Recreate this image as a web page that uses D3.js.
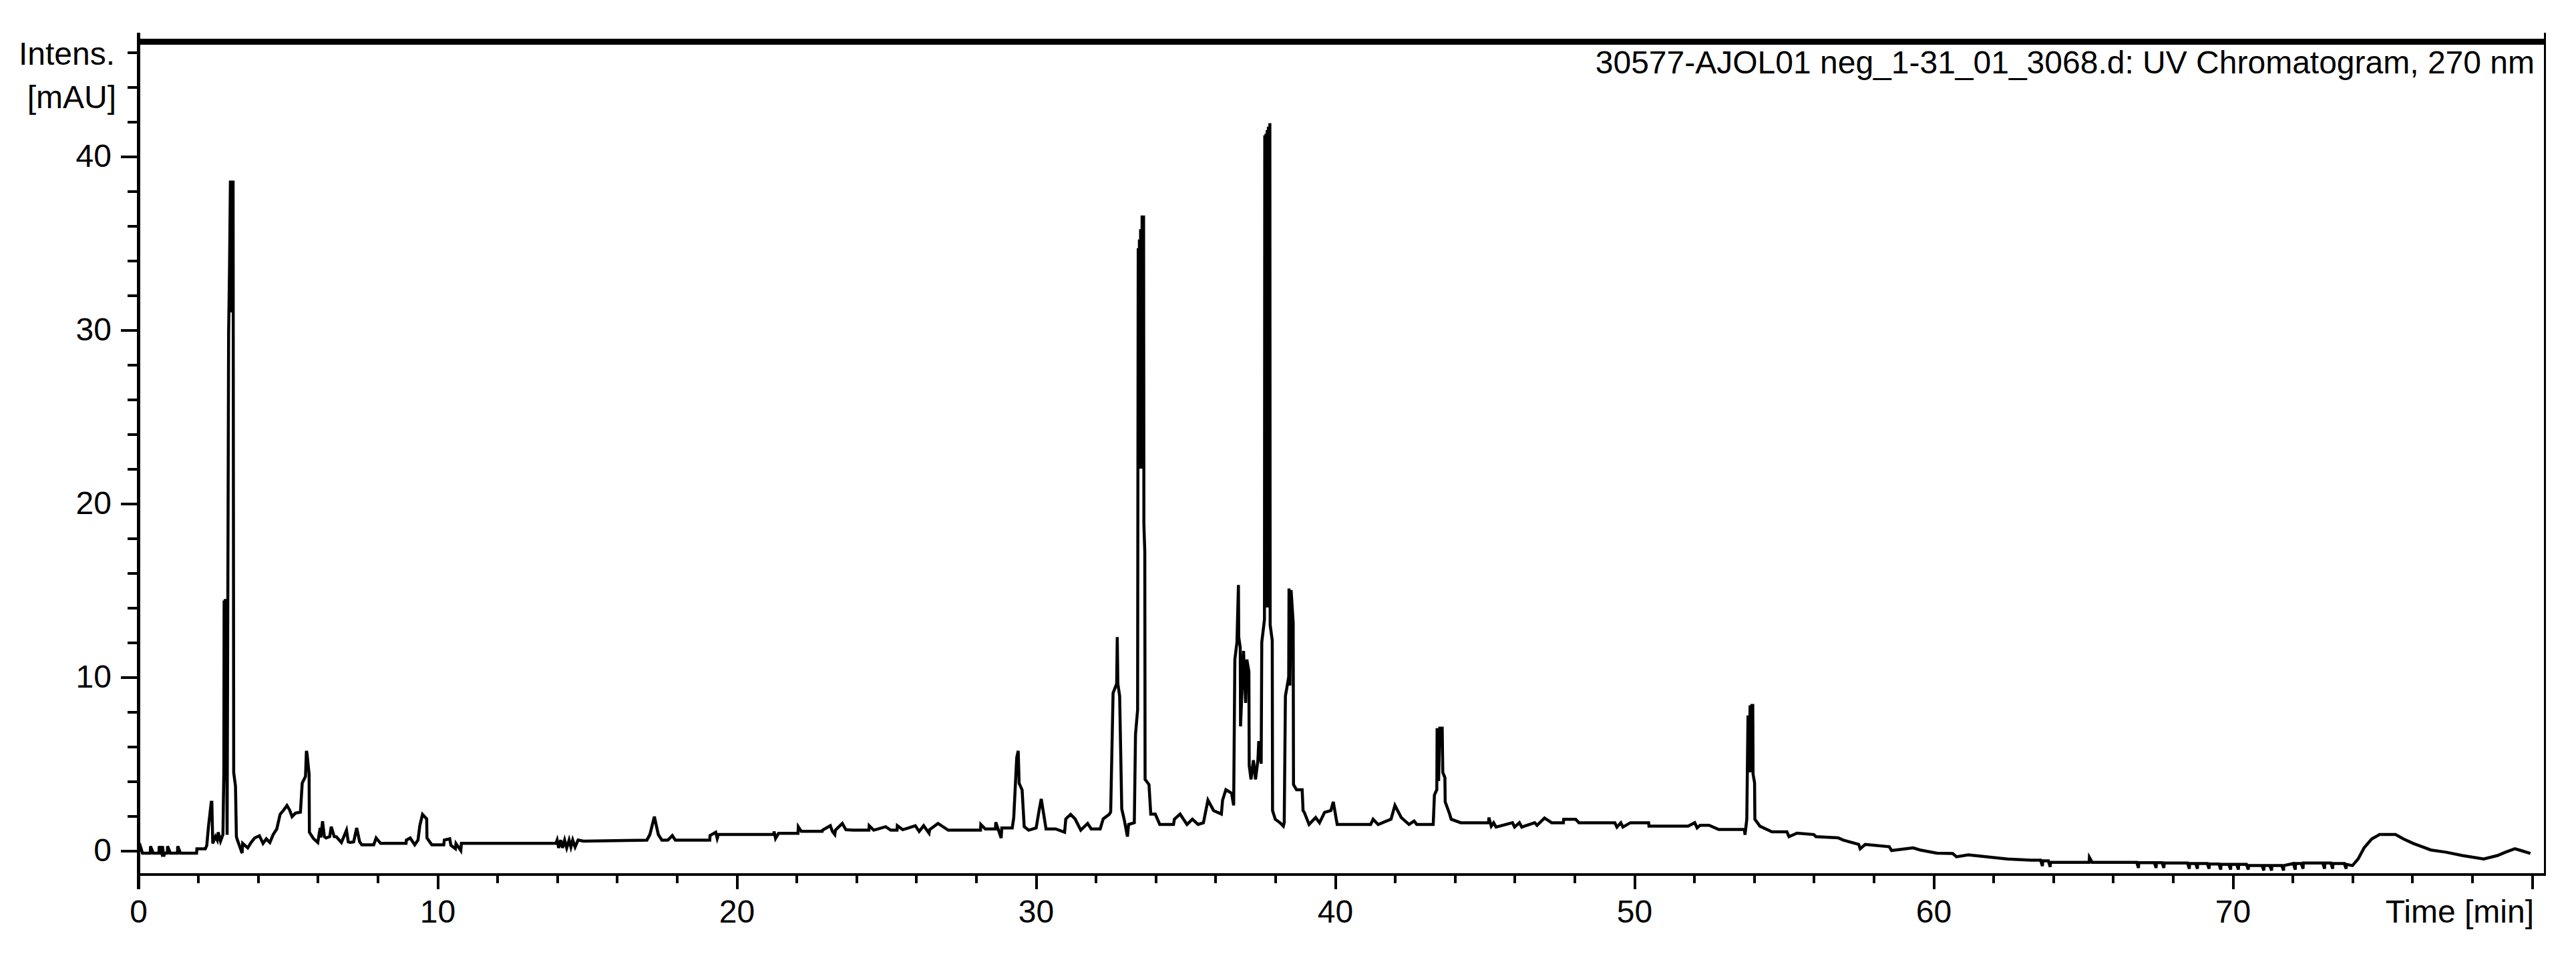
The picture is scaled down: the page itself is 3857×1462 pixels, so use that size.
<!DOCTYPE html>
<html>
<head>
<meta charset="utf-8">
<script src="https://cdn.jsdelivr.net/npm/d3@7/dist/d3.min.js"></script>
<style>
  body { margin: 0; background: #fff; }
  #chart-container { width: 3857px; height: 1462px; }
</style>
</head>
<body>
<div id="chart-container"></div>
<script>
const title = "30577-AJOL01 neg_1-31_01_3068.d: UV Chromatogram, 270 nm";
const yLabel = ["Intens.", "[mAU]"];
const xLabel = "Time [min]";

const xMajorTicks = [0, 10, 20, 30, 40, 50, 60, 70, 80];
const yMajorTicks = [0, 10, 20, 30, 40];

// [time (min), intensity (mAU)]
const traceEarly = [
  [0.00,0.05],[0.07,0.25],[0.14,-0.15],[0.40,-0.15],[0.41,0.25],[0.50,-0.15],[0.69,-0.15],[0.70,0.25],
  [0.77,-0.1],[0.81,0.25],[0.85,-0.35],[0.88,-0.15],[0.97,-0.15],[0.98,0.25],[1.07,-0.15],[1.31,-0.15],
  [1.32,0.25],[1.41,-0.15],[1.95,-0.15],[1.96,0.1],[2.24,0.1],[2.29,0.28],[2.35,1.43],[2.44,2.78],
  [2.46,2.78],[2.49,0.41],[2.58,0.8],[2.64,0.6],[2.67,1.05],[2.75,0.54],[2.83,0.92],[2.86,4.5],
  [2.87,14.4],[2.89,4.0],[2.91,14.4],[2.93,14.4],[2.97,0.9],[3.02,29.8],[3.05,33.5],[3.08,38.6],
  [3.10,31],[3.12,38.6],[3.14,31],[3.17,38.6],[3.19,4.5],[3.25,3.7],[3.28,0.8],[3.30,0.67],
  [3.47,-0.15],[3.49,0.41],[3.66,0.15],
  [3.77,0.46],[3.89,0.72],[4.05,0.85],[4.17,0.41],[4.28,0.67],[4.40,0.46],[4.51,0.92],[4.63,1.24],
  [4.74,2.08],[4.86,2.33],[4.97,2.59],[5.06,2.33],[5.14,1.95],[5.25,2.15],[5.42,2.21],[5.48,3.88],
  [5.59,4.27],[5.62,5.74],[5.64,5.6],[5.71,4.4],[5.72,1.05],[5.85,0.7],[6.00,0.46],[6.08,1.30],
  [6.10,0.75],[6.16,1.68],[6.22,0.8],[6.28,0.72],[6.40,0.8],[6.45,1.37],[6.55,0.8],[6.62,0.79],
  [6.79,0.46],[6.96,1.17],[7.02,0.5],[7.08,0.46],[7.20,0.5],[7.30,1.30],[7.40,0.5],[7.47,0.33],
  [7.87,0.33],[7.95,0.72],[8.10,0.41],[8.95,0.41],[8.96,0.6],[9.09,0.72],[9.24,0.33],[9.35,0.6],
  [9.41,1.43],[9.50,2.08],[9.64,1.82],[9.65,0.72],[9.81,0.33],[10.21,0.33],[10.23,0.6],[10.41,0.67],
  [10.45,0.3],[10.60,0.1],[10.62,0.4],[10.78,0.0],[10.80,0.41],[13.96,0.41],[14.00,0.6],[14.05,0.15],
  [14.12,0.6],[14.18,0.15],[14.25,0.6],[14.32,0.15],[14.40,0.6],[14.46,0.2],[14.52,0.6],[14.60,0.2],
  [14.70,0.6],[14.88,0.54]
];

const traceMid = [
  [17.00,0.6],[17.10,0.92],[17.25,1.95],[17.38,0.92],[17.50,0.6],[17.70,0.6],[17.85,0.86],[17.95,0.6],
  [19.10,0.6],[19.11,0.86],[19.30,1.05],[19.35,0.7],[19.39,0.92],[21.24,0.92],[21.25,1.1],[21.30,0.7],
  [21.40,0.99],[22.05,0.99],[22.06,1.37],[22.16,1.11],[22.86,1.11],[22.87,1.17],[23.13,1.43],[23.20,1.1],
  [23.28,0.92],[23.30,1.17],[23.53,1.56],[23.65,1.2],[23.88,1.17],[24.42,1.17],[24.43,1.43],[24.58,1.17],
  [24.98,1.37],[25.15,1.17],[25.36,1.17],[25.37,1.43],[25.55,1.2],[25.75,1.3],[25.97,1.43],[26.10,1.1],
  [26.25,1.43],[26.43,1.0],[26.45,1.2],[26.73,1.56],[27.07,1.17],[28.15,1.17],[28.16,1.5],[28.31,1.24],
  [28.65,1.24],[28.66,1.63],[28.84,0.72],[28.86,1.30],[29.21,1.30],[29.26,1.88],[29.36,5.35],[29.41,5.74],
  [29.44,3.87],[29.54,3.49],[29.61,1.37],[29.76,1.17],[30.01,1.30],[30.11,2.33],[30.18,2.97]
];

const traceMain = [
  [30.34,1.24],[30.66,1.24],[30.96,1.05],[31.00,1.82],[31.16,2.08],[31.31,1.82],[31.50,1.17],[31.73,1.56],
  [31.85,1.24],[32.15,1.24],[32.25,1.82],[32.45,2.08],[32.50,2.22],[32.58,9.07],[32.70,9.6],[32.72,12.3],
  [32.74,9.6],[32.80,8.9],[32.87,2.4],[32.95,1.8],[33.06,0.8],[33.10,1.5],[33.29,1.6],[33.33,6.7],
  [33.40,8.1],[33.42,34.7],[33.44,22],[33.46,35.2],[33.48,22],[33.50,35.8],[33.52,22],[33.55,36.5],
  [33.60,36.5],[33.61,18.8],
  [33.64,17.2],[33.65,4.1],[33.78,3.8],[33.84,2.1],[33.99,2.1],[34.14,1.5],[34.60,1.5],[34.63,1.8],
  [34.82,2.1],[35.05,1.5],[35.23,1.8],[35.42,1.5],[35.60,1.6],[35.75,2.9],[35.94,2.3],[36.20,2.1],
  [36.24,2.9],[36.35,3.5],[36.54,3.3],[36.61,2.6],[36.65,11.0],[36.72,12.0],[36.77,15.3],[36.78,12.3],
  [36.83,11.7],[36.84,7.15],[36.94,11.5],[37.01,8.5],[37.05,11.0],[37.12,10.3],[37.13,4.9],[37.19,4.1],
  [37.27,5.2],[37.34,4.1],[37.42,5.2],[37.45,6.3],[37.53,5.0],[37.55,12.0],[37.64,13.3],[37.65,41.2],
  [37.67,14],[37.69,41.3],[37.71,14],[37.73,41.5],[37.75,14],[37.77,41.7],[37.79,14],[37.82,41.9],
  [37.83,13.0],[37.90,12.1],
  [37.91,2.3],[38.00,1.8],[38.16,1.6],[38.27,1.4],[38.30,1.6],[38.34,8.9],[38.45,10.0],[38.46,15.1],
  [38.49,9.5],[38.53,15.0],[38.60,13.1],[38.61,3.8],[38.71,3.5],[38.90,3.5],[38.93,2.3],[38.97,2.2],
  [39.13,1.5],[39.35,1.9],[39.48,1.6],[39.65,2.2],[39.86,2.3],[39.94,2.8],[40.07,1.5],[41.19,1.5],
  [41.27,1.8],[41.44,1.5],[41.87,1.8],[42.00,2.6],[42.21,1.9],[42.47,1.5],[42.64,1.7],[42.73,1.5],
  [43.28,1.5],[43.32,3.2],[43.40,3.5],[43.41,7.05],[43.46,4.0],[43.50,7.05],[43.58,7.05],[43.60,4.5],
  [43.67,4.2],[43.68,2.8],[43.82,2.15],[43.88,1.8],[44.20,1.6]
];

const traceLate = [
  [45.13,1.6],[45.14,1.9],[45.22,1.4],[45.30,1.6],[45.38,1.35],[45.93,1.6],[46.00,1.35],[46.16,1.6],
  [46.24,1.35],[46.67,1.6],[46.75,1.45],[47.00,1.87],[47.24,1.6],[47.63,1.6],[47.64,1.8],[48.04,1.8],
  [48.15,1.6],[49.35,1.6],[49.42,1.35],[49.55,1.6],[49.62,1.35],[49.87,1.6],[50.48,1.6],[50.49,1.4],
  [51.80,1.4],[52.02,1.6],[52.10,1.3],[52.20,1.45],[52.50,1.45],[52.82,1.21],[53.68,1.21],[53.70,0.9],
  [53.76,1.8],[53.80,7.78],[53.83,4.5],[53.87,8.36],[53.90,4.5],[53.93,8.36],[53.96,8.36],[53.97,4.4],
  [54.02,3.9],[54.03,1.8],[54.20,1.4],[54.60,1.08],[55.10,1.08],[55.17,0.8],[55.44,1.0],[56.00,0.92],
  [56.07,0.8],[56.81,0.73],[56.98,0.6],[57.50,0.35],[57.55,0.1],[57.72,0.35],[58.52,0.22],[58.60,0.0],
  [59.32,0.15],[59.55,0.03],[60.11,-0.15],[60.64,-0.17],[60.77,-0.36],[61.16,-0.25],[61.42,-0.3],[62.47,-0.49],
  [63.26,-0.56],[63.58,-0.56],[63.64,-0.9],[63.65,-0.6],[63.84,-0.6],[63.90,-0.95],[63.91,-0.68],[64.04,-0.68],
  [65.20,-0.68],[65.21,-0.4],[65.30,-0.68],[66.79,-0.68],[66.85,-1.0],[66.86,-0.7],[67.38,-0.7],[67.44,-1.0],
  [67.45,-0.7],[67.64,-0.7],[67.70,-1.0],[67.71,-0.72],[68.49,-0.72],[68.55,-1.05],[68.56,-0.75],[68.76,-0.75],
  [68.82,-1.05],[68.83,-0.75],[69.15,-0.75],[69.21,-1.05],[69.22,-0.78],[69.54,-0.78],[69.60,-1.1],[69.61,-0.8],
  [69.87,-0.8],[69.93,-1.1],[69.94,-0.8],[70.13,-0.8],[70.19,-1.1],[70.20,-0.8],[70.46,-0.8],[70.52,-1.1],
  [70.53,-0.87],[70.98,-0.87],[71.04,-1.15],[71.05,-0.87],[71.24,-0.87],[71.30,-1.15],[71.31,-0.87],[71.64,-0.87],
  [71.70,-1.15],[71.71,-0.87],[72.03,-0.75],[72.09,-1.1],[72.10,-0.75],[72.29,-0.75],[72.35,-1.05],[72.36,-0.72],
  [73.01,-0.72],[73.07,-1.05],[73.08,-0.72],[73.28,-0.72],[73.34,-1.05],[73.35,-0.75],[73.73,-0.75],[73.79,-1.05],
  [73.80,-0.8],[74.00,-0.87],[74.19,-0.49],[74.39,0.15],[74.65,0.67],[74.91,0.92],[75.44,0.92],[75.70,0.67],
  [76.03,0.41],[76.62,0.03],[77.14,-0.1],[77.67,-0.29],[78.39,-0.49],[78.85,-0.29],[79.11,-0.1],[79.43,0.1],
  [79.63,0.0],[79.95,-0.17]
];

const trace = traceEarly.concat(traceMid, traceMain, traceLate);

const frame = { top: 62, left: 207, right: 3810, bottom: 1310, axisTop: 49 };
const fontFamily = "'Liberation Sans', Arial, sans-serif";

const svg = d3.select("#chart-container")
    .append("svg")
    .attr("width", 3857)
    .attr("height", 1462)
    .style("background", "#fff");

const x = d3.scaleLinear().domain([0, 80]).range([frame.left, 3791]);
const y = d3.scaleLinear().domain([0, 40]).range([1274, 234]);

// y axis ticks
const yAxisG = svg.append("g").attr("transform", `translate(${frame.left},0)`);
yAxisG.append("g")
    .call(d3.axisLeft(y).tickValues(d3.range(2, 47, 2).filter(d => d % 10 !== 0))
        .tickSize(16).tickFormat("").tickSizeOuter(0));
yAxisG.append("g")
    .call(d3.axisLeft(y).tickValues(yMajorTicks).tickSize(26).tickPadding(14).tickSizeOuter(0));

// x axis ticks
const xAxisG = svg.append("g").attr("transform", `translate(0,${frame.bottom})`);
xAxisG.append("g")
    .call(d3.axisBottom(x).tickValues(d3.range(2, 80, 2).filter(d => d % 10 !== 0))
        .tickSize(13).tickFormat("").tickSizeOuter(0));
xAxisG.append("g")
    .call(d3.axisBottom(x).tickValues(xMajorTicks).tickSize(22).tickPadding(16)
        .tickFormat(d => d === 80 ? "" : d).tickSizeOuter(0));

svg.selectAll(".domain").remove();
svg.selectAll(".tick line")
    .attr("stroke", "#000").attr("stroke-width", 4)
    .attr("shape-rendering", "crispEdges");
svg.selectAll(".tick text")
    .attr("fill", "#000")
    .style("font-family", fontFamily)
    .style("font-size", "48px");

// frame
const frameLine = (x1, y1, x2, y2, w) => svg.append("line")
    .attr("x1", x1).attr("y1", y1).attr("x2", x2).attr("y2", y2)
    .attr("stroke", "#000").attr("stroke-width", w)
    .attr("shape-rendering", "crispEdges");

frameLine(frame.left, frame.top, frame.right, frame.top, 9);
frameLine(frame.left, frame.axisTop, frame.left, 1332, 5);
frameLine(frame.right, frame.axisTop, frame.right, frame.bottom + 2, 3);
frameLine(frame.left, frame.bottom, frame.right + 1.5, frame.bottom, 4);

// trace
const line = d3.line()
    .x(d => x(d[0]))
    .y(d => y(d[1]));

svg.append("path")
    .datum(trace)
    .attr("fill", "none")
    .attr("stroke", "#000")
    .attr("stroke-width", 4.5)
    .attr("stroke-linejoin", "miter")
    .attr("d", line);

// labels
const label = (txt, lx, ly) => svg.append("text")
    .attr("x", lx).attr("y", ly)
    .attr("text-anchor", "end")
    .style("font-family", fontFamily)
    .style("font-size", "48px")
    .attr("fill", "#000")
    .text(txt);

label(yLabel[0], 172, 97);
label(yLabel[1], 174, 162);
label(title, 3795, 110);
label(xLabel, 3794, 1382);
</script>
</body>
</html>
